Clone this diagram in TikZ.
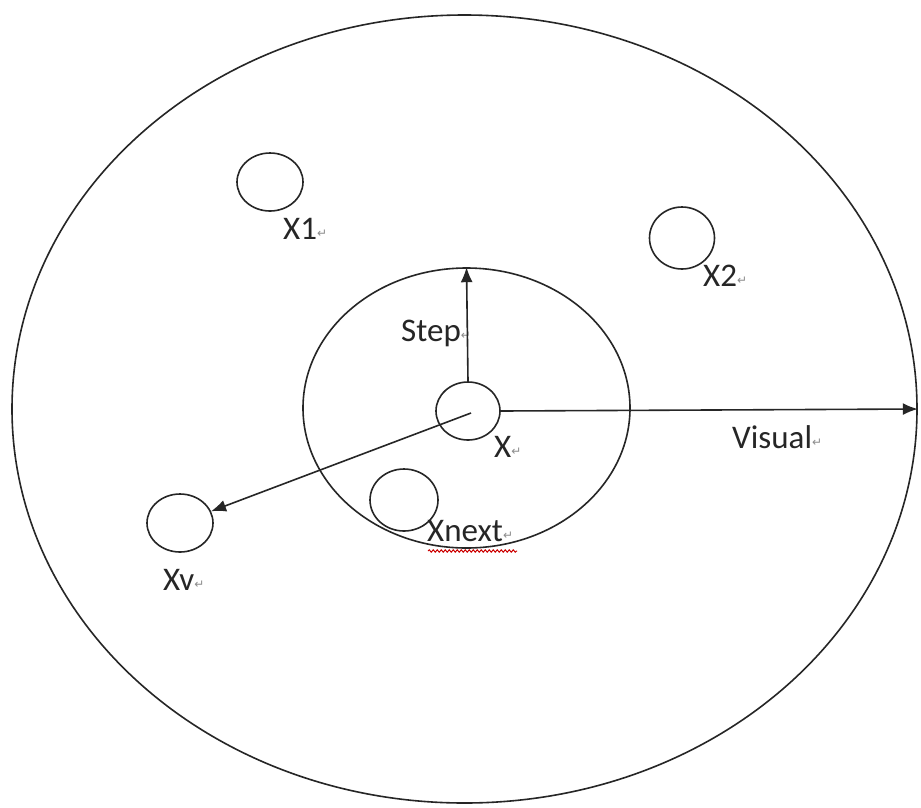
\documentclass[tikz,border=0pt]{standalone}
\usepackage{fontspec}
\setmainfont{Carlito}
\newfontfamily\dvsans{DejaVu Sans}
\usetikzlibrary{shapes.geometric,arrows.meta,decorations.pathmorphing}
\newcommand{\pmk}{{\dvsans\fontsize{12}{12}\selectfont\textcolor{black!45}{\raisebox{2pt}{↵}}}}
\tikzset{
  ring/.style={draw=black!85, line width=1.6pt, ellipse, inner sep=0pt},
  dot/.style={ring, minimum width=66pt, minimum height=58pt},
  lbl/.style={inner sep=0pt, font=\fontsize{33}{38}\selectfont, text=black!85},
  arr/.style={draw=black!85, line width=1.6pt, -{Latex[length=15pt,width=12pt]}},
}
\begin{document}
\begin{tikzpicture}[x=1pt,y=-1pt]
\useasboundingbox (0,0) rectangle (921,807);
\fill[white] (0,0) rectangle (921,807);
% rings
\node[ring, minimum width=905pt, minimum height=788pt] (outer) at (464.5,409) {};
\node[ring, minimum width=327pt, minimum height=280pt] (inner) at (466.5,408) {};
% small circles
\node[dot] (x1) at (270,182) {};
\node[dot, minimum width=65pt, minimum height=62pt] (x2) at (682,238) {};
\node[dot, minimum width=64pt, minimum height=58pt] (x) at (468,411) {};
\node[dot, minimum width=68pt, minimum height=62pt] (xn) at (404,500) {};
\node[dot] (xv) at (180,523) {};
% labels
\node[lbl, anchor=west] (lx1) at (283,229) {X1\pmk};
\node[lbl, anchor=west] (lx2) at (703,276) {X2\pmk};
\node[lbl, anchor=west] (lx) at (494,447) {X\pmk};
\node[lbl, anchor=west] (lstep) at (401,333) {Step\pmk};
\node[lbl, anchor=west] (lxn) at (427,531) {Xnext\pmk};
\node[lbl, anchor=west] (lxv) at (163,580) {Xv\pmk};
\node[lbl, anchor=west] (lvis) at (732,437) {Visual\pmk};
% red wavy underline
\coordinate (ua) at (428,551);
\coordinate (ub) at (517,551);
\draw[red!80!black, line width=1pt, decorate, decoration={snake, amplitude=1.2pt, segment length=4pt}] (ua) -- (ub);
% arrows
\draw[arr] (x.north) -- (inner.north);
\draw[arr] (x.east) -- (outer.east);
\coordinate (xs) at (471,413);
\draw[arr] (xs) -- (xv);
\end{tikzpicture}
\end{document}
